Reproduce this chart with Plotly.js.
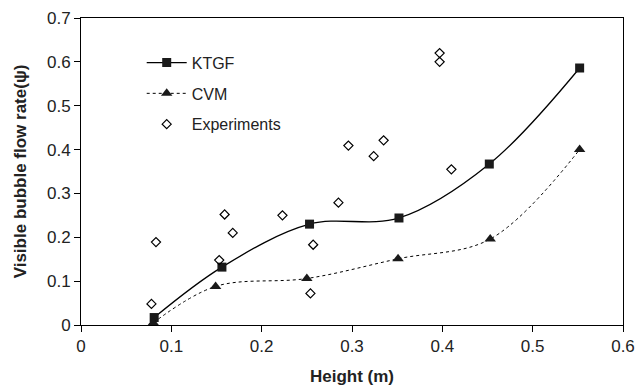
<!DOCTYPE html>
<html>
<head>
<meta charset="utf-8">
<script src="https://cdn.plot.ly/plotly-3.0.1.min.js"></script>
<style>html,body{margin:0;padding:0;background:#fff;}#chart{width:637px;height:386px;}</style>
</head>
<body>
<div id="chart"></div>
<script>
const ktgfX = [0.081, 0.156, 0.253, 0.352, 0.452, 0.552];
const ktgfY = [0.017, 0.132, 0.230, 0.244, 0.367, 0.586];
const cvmX = [0.080, 0.149, 0.250, 0.351, 0.453, 0.552];
const cvmY = [0.005, 0.088, 0.106, 0.151, 0.196, 0.400];
const expX = [0.078, 0.083, 0.153, 0.159, 0.168, 0.223, 0.257, 0.254, 0.285, 0.296, 0.324, 0.335, 0.397, 0.397, 0.410];
const expY = [0.048, 0.189, 0.148, 0.252, 0.210, 0.250, 0.183, 0.072, 0.279, 0.409, 0.385, 0.421, 0.620, 0.600, 0.355];
const xTicks = [0, 0.1, 0.2, 0.3, 0.4, 0.5, 0.6];
const yTicks = [0, 0.1, 0.2, 0.3, 0.4, 0.5, 0.6, 0.7];

const FONT = 'Liberation Sans, Arial, sans-serif';
const traces = [
  {x: ktgfX, y: ktgfY, name: 'KTGF', legendgroup: 'a', type: 'scatter', mode: 'lines+markers',
   line: {color: '#000', width: 1.3, shape: 'spline', smoothing: 1},
   marker: {symbol: 'square', size: 9, color: '#1a1a1a'}},
  {x: cvmX, y: cvmY, name: 'CVM', legendgroup: 'b', type: 'scatter', mode: 'lines+markers',
   line: {color: '#000', width: 1, shape: 'spline', smoothing: 1, dash: 'dot'},
   marker: {symbol: 'triangle-up', size: 10, color: '#1a1a1a'}},
  {x: expX, y: expY, name: 'Experiments', legendgroup: 'c', type: 'scatter', mode: 'markers',
   marker: {symbol: 'diamond-open', size: 7, color: '#000', line: {width: 1.2, color: '#000'}}}
];
const axisCommon = {showgrid: false, zeroline: false, showline: true, linecolor: '#000', linewidth: 1,
  mirror: true, ticks: 'outside', ticklen: 6, tickcolor: '#000', tickwidth: 1,
  tickfont: {family: FONT, size: 17, color: '#222'}};
const layout = {
  width: 637, height: 386,
  margin: {l: 81, r: 14, t: 18, b: 61},
  paper_bgcolor: '#fff', plot_bgcolor: '#fff',
  showlegend: true,
  legend: {x: 0.112, y: 0.91, xanchor: 'left', yanchor: 'top', bgcolor: 'rgba(0,0,0,0)', itemwidth: 40,
    font: {family: FONT, size: 16, color: '#222'}, traceorder: 'grouped', tracegroupgap: 7},
  xaxis: Object.assign({}, axisCommon, {range: [0, 0.6], tickvals: xTicks, ticktext: xTicks.map(String),
    title: {text: '<b>Height (m)</b>', font: {family: FONT, size: 17, color: '#222'}, standoff: 14}}),
  yaxis: Object.assign({}, axisCommon, {range: [0, 0.7], tickvals: yTicks, ticktext: yTicks.map(String),
    title: {text: '<b>Visible bubble flow rate(ψ)</b>', font: {family: FONT, size: 17, color: '#222'}, standoff: 16}})
};
Plotly.newPlot('chart', traces, layout, {displayModeBar: false, staticPlot: true});
</script>
</body>
</html>
